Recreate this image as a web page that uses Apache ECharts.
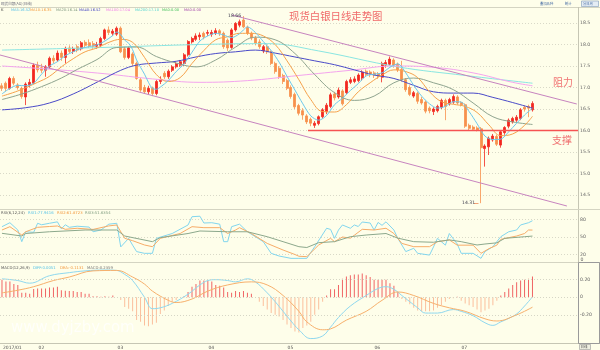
<!DOCTYPE html>
<html><head><meta charset="utf-8">
<script src="https://cdn.jsdelivr.net/npm/echarts@6/dist/echarts.min.js"></script>
<style>html,body{margin:0;padding:0;background:#fefeea}#c{width:600px;height:350px}</style>
</head><body><div id="c"></div>
<script>
// ---------- DATA ----------
const SLOTS = 146; // category slots on the x axis (135 trading days + empty space at right)
const monthTicks = [0, 9, 29, 52, 72, 94, 116];
const monthNames = ['2017/01', '02', '03', '04', '05', '06', '07'];

const open = [17.04,17.10,16.98,17.21,17.06,16.98,16.78,17.06,17.10,17.52, 17.46,17.40,17.48,17.68,17.64,17.80,17.70,17.92,17.84,17.95,
 17.90,18.05,18.04,18.02,17.96,17.98,18.14,18.34,18.26,18.24, 18.38,17.90,17.70,17.78,17.56,17.18,17.00,16.90,16.98,16.86,
 17.14,17.33,17.25,17.40,17.48,17.52,17.56,17.76,18.06,18.12, 18.18,18.26,18.26,18.24,18.27,18.32,18.26,18.10,17.93,18.34,
 18.45,18.57,18.40,18.26,18.15,18.06,17.85,17.95,17.83,17.56, 17.45,17.28,17.16,17.00,16.84,16.58,16.46,16.34,16.26,16.12,
 16.16,16.32,16.44,16.56,16.85,16.78,16.92,16.88,17.12,17.14, 17.16,17.22,17.38,17.36,17.34,17.32,17.24,17.52,17.54,17.64,
 17.54,17.42,17.18,17.00,16.80,16.86,16.72,16.66,16.52,16.44, 16.46,16.54,16.70,16.62,16.66,16.78,16.65,16.60,16.12,16.08,
 16.06,16.04,15.58,15.62,15.78,15.86,15.66,15.95,16.10,16.20, 16.24,16.28,16.54,16.56,16.48];
const close = [16.98,16.98,17.21,17.10,17.00,16.79,17.08,17.12,17.52,17.41, 17.40,17.48,17.68,17.62,17.80,17.70,17.91,17.84,17.90,17.87,
 18.04,17.98,17.97,17.96,18.00,18.14,18.34,18.28,18.31,18.38, 17.83,17.70,17.92,17.56,17.21,16.94,16.90,16.98,16.86,17.14,
 17.18,17.25,17.38,17.48,17.55,17.60,17.76,18.07,18.14,18.20, 18.22,18.18,18.28,18.28,18.32,18.26,17.95,17.92,18.34,18.49,
 18.53,18.41,18.26,18.15,18.03,17.95,17.95,17.83,17.56,17.37, 17.25,17.14,16.98,16.79,16.55,16.40,16.36,16.20,16.17,16.17,
 16.32,16.48,16.59,16.83,16.76,16.94,16.62,17.14,17.18,17.20, 17.29,17.36,17.30,17.30,17.29,17.26,17.56,17.58,17.66,17.52,
 17.41,17.18,16.95,16.84,16.88,16.68,16.64,16.45,16.46,16.50, 16.56,16.70,16.56,16.72,16.79,16.64,16.60,16.10,16.05,16.03,
 16.01,15.60,15.64,15.82,15.87,15.68,15.97,16.07,16.24,16.28, 16.31,16.48,16.50,16.52,16.63];
const low = [16.92,16.92,16.95,17.05,16.95,16.74,16.59,17.00,17.08,17.35, 17.34,17.25,17.44,17.56,17.60,17.62,17.56,17.80,17.78,17.82,
 17.86,17.93,17.92,17.90,17.90,17.94,18.10,18.22,18.20,18.20, 17.80,17.65,17.66,17.50,17.18,16.90,16.85,16.84,16.80,16.82,
 17.08,17.20,17.20,17.36,17.44,17.48,17.50,17.72,18.02,18.08, 18.10,18.12,18.20,18.18,18.22,18.20,17.90,17.85,17.90,18.30,
 18.40,18.38,18.22,18.10,17.98,17.90,17.80,17.78,17.52,17.32, 17.20,17.08,16.94,16.74,16.50,16.35,16.25,16.15,16.10,16.06,
 16.12,16.28,16.38,16.52,16.70,16.74,16.58,16.84,17.08,17.10, 17.12,17.16,17.25,17.24,17.22,17.20,17.12,17.46,17.50,17.46,
 17.36,17.14,16.90,16.80,16.76,16.62,16.60,16.40,16.40,16.36, 16.42,16.50,16.24,16.58,16.62,16.60,16.56,16.06,16.00,16.00,
 15.98,14.31,15.16,15.43,15.74,15.64,15.60,15.90,16.05,16.16, 16.20,16.24,16.44,16.31,16.44];
const high = [17.10,17.14,17.25,17.26,17.10,17.02,17.12,17.20,17.56,17.60, 17.55,17.52,17.72,17.75,17.86,17.86,17.95,17.98,17.95,18.00,
 18.08,18.10,18.12,18.08,18.06,18.18,18.37,18.42,18.36,18.42, 18.42,17.95,17.96,17.82,17.60,17.22,17.06,17.04,17.02,17.18,
 17.26,17.38,17.42,17.52,17.60,17.64,17.80,18.10,18.18,18.26, 18.28,18.30,18.34,18.34,18.38,18.36,18.30,18.14,18.38,18.52,
 18.58,18.66,18.44,18.30,18.20,18.12,17.99,18.00,17.86,17.60, 17.50,17.32,17.20,17.05,16.88,16.62,16.52,16.38,16.30,16.22,
 16.35,16.52,16.64,16.88,16.90,17.00,16.96,17.18,17.24,17.26, 17.33,17.40,17.42,17.40,17.38,17.36,17.60,17.64,17.72,17.68,
 17.58,17.62,17.22,17.05,16.92,16.90,16.78,16.70,16.56,16.54, 16.60,16.74,16.74,16.76,16.84,16.82,16.68,16.63,16.16,16.12,
 16.10,16.08,15.68,15.86,15.92,15.90,16.00,16.10,16.28,16.32, 16.36,16.52,16.58,16.60,16.68];

// moving-average lines, sampled [dayIndex, value]
const ma5 = [[0,16.85],[2,16.98],[4,17.05],[6,17.04],[8,17.10],[10,17.31],[12,17.50],[14,17.60],[16,17.74],[18,17.83],[20,17.91],[22,17.95],[24,17.99],[26,18.08],[28,18.21],[29,18.29],[30,18.23],[31,18.10],[32,18.03],[33,17.88],[34,17.64],[35,17.47],[36,17.31],[37,17.12],[38,16.98],[39,16.96],[40,17.01],[42,17.16],[44,17.37],[46,17.55],[48,17.82],[50,18.08],[52,18.20],[54,18.26],[56,18.22],[58,18.16],[60,18.25],[61,18.34],[62,18.41],[64,18.28],[66,18.07],[68,17.86],[70,17.59],[72,17.26],[74,16.94],[76,16.62],[78,16.34],[80,16.24],[82,16.35],[84,16.60],[86,16.75],[88,16.93],[90,17.09],[92,17.27],[94,17.31],[96,17.34],[98,17.47],[100,17.55],[102,17.34],[104,17.05],[106,16.80],[108,16.62],[110,16.52],[112,16.56],[114,16.67],[116,16.66],[118,16.44],[120,16.16],[122,15.87],[124,15.79],[126,15.80],[128,15.97],[130,16.17],[132,16.36],[134,16.52]];
const ma10 = [[0,16.80],[4,16.92],[9,17.12],[12,17.26],[15,17.48],[18,17.67],[21,17.83],[24,17.92],[27,18.05],[30,18.12],[33,18.05],[36,17.70],[39,17.30],[42,17.14],[45,17.23],[48,17.56],[51,17.86],[54,18.11],[57,18.18],[60,18.26],[63,18.26],[66,18.20],[69,18.00],[72,17.62],[75,17.18],[78,16.72],[81,16.44],[84,16.43],[87,16.60],[90,16.90],[93,17.11],[96,17.29],[99,17.41],[102,17.37],[105,17.23],[108,16.90],[111,16.67],[114,16.61],[117,16.56],[120,16.42],[123,16.13],[126,15.88],[129,15.92],[132,16.12],[134,16.33]];
const ma20 = [[0,16.72],[5,16.85],[10,17.02],[15,17.22],[19,17.42],[24,17.65],[29,17.93],[34,17.94],[39,17.72],[44,17.57],[49,17.48],[54,17.64],[59,17.94],[64,18.17],[69,18.11],[74,17.79],[79,17.30],[84,16.88],[89,16.70],[94,16.80],[99,17.11],[104,17.22],[109,17.11],[114,16.95],[119,16.64],[124,16.32],[129,16.20],[134,16.14]];
const ma40 = [[0,16.48],[6,16.53],[12,16.64],[18,16.85],[25,17.17],[30,17.40],[34,17.52],[39,17.57],[44,17.61],[49,17.71],[54,17.79],[59,17.83],[64,17.87],[69,17.80],[74,17.71],[79,17.62],[84,17.53],[89,17.41],[94,17.29],[99,17.21],[104,17.05],[109,16.90],[114,16.87],[119,16.87],[124,16.77],[129,16.65],[134,16.52]];
const ma100 = [[0,17.50],[13,17.42],[26,17.32],[38,17.20],[50,17.12],[62,17.16],[75,17.28],[88,17.40],[99,17.50],[109,17.47],[119,17.34],[129,17.12],[134,17.04]];
const ma200 = [[0,17.87],[25,17.93],[50,18.00],[67,18.02],[80,17.85],[100,17.48],[117,17.28],[134,17.10]];

// hand-drawn lines [dayIndex, price]
const upperChannel = [[58.1,18.686],[145.2,16.616]];
const lowerChannel = [[-0.5,17.756],[142.7,14.244]];
const supportLine = [[77.3,16.0],[145.5,16.0]];

// RSI(6,12,24) sampled [dayIndex, value]
const rsi1 = [[0,67.7],[2,74.5],[4,62],[5,42],[6,59],[8,58],[9,73.5],[10,71],[12,73.5],[14,76],[15,64],[16,71],[17,66.6],[19,68.5],[22,67],[23,59],[25,62],[27,72],[29,73.5],[30,33],[32,47.7],[33,36],[34,25],[36,22],[38,22],[39,47.7],[43,56],[47,70.6],[48,84.8],[50,85.6],[51,74],[53,74.5],[55,72],[56,42],[57,42],[58,67.7],[60,72],[62,59],[66,42],[68,22],[70,17.4],[73,13.4],[75,13.4],[77,13.4],[79,33.4],[82,65],[83,63],[84,47.7],[85,62],[86,70.6],[88,65],[89,70.6],[90,68],[91,75.7],[93,74],[94,62],[95,75],[96,70],[97,76],[99,62],[100,47.7],[102,25],[104,30.6],[105,22],[108,19],[109,33],[110,47.7],[112,36],[113,56],[115,38],[116,22],[119,22],[121,13.4],[122,25],[124,33.4],[126,50.5],[128,59],[130,62],[131,70.6],[133,74.5],[134,77.9]];
const rsi2 = [[0,62],[2,67.7],[5,53.4],[6,59],[9,66.6],[12,68],[14,68.9],[16,63.2],[19,65],[23,63],[27,69],[29,70.6],[31,47.7],[33,43.7],[36,36.3],[38,33.4],[40,47.7],[45,56],[48,67.7],[51,66],[55,66],[57,56],[59,62],[60,66],[63,56],[67,39],[71,27.7],[74,20],[75,17],[77,16.3],[80,36.3],[83,47.7],[84,42],[86,50],[88,48],[89,53],[91,63.2],[94,62],[97,65],[99,56],[101,39],[104,33.4],[108,33.4],[110,42],[113,45],[115,36],[119,36],[121,22],[123,30],[125,36],[126,46],[130,51.7],[132,56],[133,62],[134,61.9]];
const rsi3 = [[0,56.3],[5,51.7],[6,56],[12,59],[21,62],[29,62],[31,51.7],[38,42],[40,48.9],[47,56],[50,60.3],[57,59],[62,59],[67,50.5],[71,42],[75,33.4],[77,32],[80,40.3],[84,42],[88,50.5],[92,53.4],[97,56],[100,48],[104,42],[109,41],[113,45],[116,42],[120,36.3],[122,38],[125,40],[127,47.7],[132,50.5],[134,51.6]];

// MACD(12,26,9)
const macdHist = [0.20,0.18,0.18,0.15,0.14,0.05,0.05,0.04,0.095,0.10, 0.10,0.10,0.11,0.11,0.12,0.08,0.075,0.07,0.07,0.06,
 0.06,0.04,0.04,0.01,0.01,0.005,0.01,0.005,0.02,0.0, -0.03,-0.11,-0.13,-0.16,-0.26,-0.28,-0.32,-0.33,-0.31,-0.29,
 -0.19,-0.15,-0.10,-0.05,-0.03,0.0,0.01,0.06,0.12,0.15, 0.19,0.19,0.19,0.18,0.14,0.13,0.11,0.06,0.05,0.07,
 0.06,0.07,0.05,0.04,0.0,-0.05,-0.10,-0.14,-0.18,-0.20, -0.22,-0.26,-0.31,-0.35,-0.39,-0.40,-0.35,-0.32,-0.28,-0.20,
 -0.14,-0.05,0.02,0.09,0.09,0.14,0.21,0.235,0.25,0.26, 0.26,0.27,0.25,0.23,0.20,0.20,0.20,0.20,0.16,0.13,
 0.06,-0.02,-0.05,-0.08,-0.12,-0.15,-0.16,-0.16,-0.16,-0.15, -0.12,-0.09,-0.05,-0.02,-0.01,0.005,-0.04,-0.07,-0.09,-0.11,
 -0.14,-0.17,-0.15,-0.13,-0.09,-0.04,0.02,0.06,0.10,0.14, 0.17,0.19,0.20,0.21,0.236];
const diff = [[0,0.21],[4,0.19],[7,0.16],[12,0.245],[17,0.28],[21,0.30],[26,0.31],[29,0.305],[31,0.26],[33,0.19],[36,0.0],[38,-0.13],[40,-0.12],[43,-0.07],[47,0.035],[50,0.14],[52,0.19],[54,0.20],[57,0.19],[59,0.175],[62,0.21],[64,0.175],[67,0.05],[69,-0.05],[71,-0.16],[73,-0.27],[75,-0.37],[78,-0.47],[81,-0.44],[83,-0.34],[85,-0.23],[88,-0.10],[92,0.02],[95,0.10],[97,0.12],[99,0.09],[101,0.02],[103,-0.05],[105,-0.12],[107,-0.18],[110,-0.18],[114,-0.14],[116,-0.16],[119,-0.21],[122,-0.29],[124,-0.32],[126,-0.28],[128,-0.24],[130,-0.19],[132,-0.10],[134,0.005]];
const dea = [[0,0.05],[4,0.08],[8,0.12],[13,0.19],[17,0.23],[23,0.30],[29,0.305],[33,0.23],[36,0.15],[38,0.07],[42,-0.035],[44,-0.06],[48,-0.02],[52,0.07],[57,0.14],[63,0.175],[67,0.14],[71,0.02],[75,-0.16],[77,-0.28],[81,-0.37],[83,-0.36],[87,-0.26],[92,-0.16],[96,-0.035],[100,0.06],[104,0.02],[109,-0.07],[113,-0.12],[117,-0.16],[122,-0.245],[125,-0.27],[130,-0.20],[134,-0.113]];

// ---------- CHART ----------
const cats = Array.from({length: SLOTS}, (_, i) => String(i));
const dateLabel = new Array(SLOTS).fill('');
monthTicks.forEach((t, k) => { dateLabel[t] = monthNames[k]; });
const candles = open.map((o, i) => [o, close[i], low[i], high[i]]);

const NUMF = 'DejaVu Sans, sans-serif';
const CJK = '"Noto Sans CJK SC", sans-serif';
const GRID_LINE = {color: '#d9d9c8', type: [1, 2], width: 1};

function hiddenCat(g) { return {type: 'category', gridIndex: g, data: cats, boundaryGap: true, show: false}; }
function hiddenVal(g) { return {type: 'value', gridIndex: g, min: -0.5, max: SLOTS - 0.5, show: false}; }
function line(name, data, color, xi, yi, extra) {
  return Object.assign({type: 'line', name, data, xAxisIndex: xi, yAxisIndex: yi, symbol: 'none', showSymbol: false,
    lineStyle: {color, width: 1}, itemStyle: {color}, z: 3, silent: true, animation: false}, extra || {});
}
function T(x, y, text, size, color, font, extra) {
  return Object.assign({type: 'text', x, y, z: 100, silent: true, style: {text, fill: color, fontSize: size,
    fontFamily: font || NUMF, textAlign: 'left', textVerticalAlign: 'middle', align: 'left', verticalAlign: 'middle'}}, extra || {});
}
function L(x1, y1, x2, y2, color, w) {
  return {type: 'line', z: 50, silent: true, shape: {x1, y1, x2, y2}, style: {stroke: color, lineWidth: w || 1}};
}

const chart = echarts.init(document.getElementById('c'), null, {renderer: 'canvas'});
chart.setOption({
  animation: false,
  backgroundColor: '#fefeea',
  grid: [
    {left: 0, width: 578, top: 1.5, height: 215},
    {left: 0, width: 578, top: 202, height: 70},
    {left: 0, width: 578, top: 244.5, height: 111},
    {left: 0, width: 578, top: 343, height: 1}
  ],
  xAxis: [
    hiddenCat(0), hiddenVal(0), hiddenVal(1), hiddenCat(2), hiddenVal(2),
    {type: 'category', gridIndex: 3, data: cats, boundaryGap: true, axisLine: {show: false}, axisTick: {show: false},
     splitLine: {show: false},
     axisLabel: {interval: 0, margin: 1.5, fontSize: 4.5, color: '#555', fontFamily: NUMF, align: 'left',
       formatter: (v, idx) => dateLabel[idx] || ''}}
  ],
  yAxis: [
    {type: 'value', gridIndex: 0, position: 'right', min: 14, max: 19, interval: 0.5,
     axisLine: {show: false}, axisTick: {show: false},
     axisLabel: {fontSize: 4.6, color: '#666', margin: 2, fontFamily: NUMF,
       formatter: v => (v < 14.3 || v > 18.7) ? '' : v.toFixed(1)},
     splitLine: {show: true, showMinLine: false, showMaxLine: false, lineStyle: GRID_LINE}},
    {type: 'value', gridIndex: 1, position: 'right', min: -10, max: 110, interval: 30,
     axisLine: {show: false}, axisTick: {show: false},
     axisLabel: {fontSize: 4.6, color: '#666', margin: 2, fontFamily: NUMF,
       formatter: v => (v > 0 && v < 100) ? String(Math.round(v)) : ''},
     splitLine: {show: true, showMinLine: false, showMaxLine: false, lineStyle: GRID_LINE}},
    {type: 'value', gridIndex: 2, position: 'right', min: -0.6, max: 0.6, interval: 0.2,
     axisLine: {show: false}, axisTick: {show: false},
     axisLabel: {fontSize: 4.6, color: '#666', margin: 2, fontFamily: NUMF,
       formatter: v => { const r = Math.round(v * 100) / 100; if (Math.abs(r) < 1e-9) return '0';
         if (Math.abs(Math.abs(r) - 0.2) < 1e-6) return r.toFixed(2); return ''; }},
     splitLine: {show: false}},
    {type: 'value', gridIndex: 3, show: false}
  ],
  series: [
    {type: 'candlestick', xAxisIndex: 0, yAxisIndex: 0, data: candles, barWidth: 2.5, z: 2, silent: true,
     itemStyle: {color: '#f2271f', color0: '#f7914c', borderColor: '#f2271f', borderColor0: '#f7914c', borderWidth: 0.8}},
    line('MA200', ma200, '#8ae6e2', 1, 0, {smooth: 0.4}),
    line('MA100', ma100, '#f4a4ee', 1, 0, {smooth: 0.4}),
    line('MA40', ma40, '#4a4ac8', 1, 0, {smooth: 0.4}),
    line('MA20', ma20, '#8fa48f', 1, 0, {smooth: 0.4}),
    line('MA10', ma10, '#f6a24c', 1, 0, {smooth: 0.4}),
    line('MA5', ma5, '#6cc8ec', 1, 0, {smooth: 0.3}),
    line('upper', upperChannel, '#c784bf', 1, 0, {z: 4}),
    line('lower', lowerChannel, '#c784bf', 1, 0, {z: 4}),
    line('support', supportLine, '#f65353', 1, 0, {z: 4, lineStyle: {color: '#f65353', width: 1.4}}),
    line('RSI1', rsi1, '#82d6ee', 2, 1),
    line('RSI2', rsi2, '#f7ac68', 2, 1),
    line('RSI3', rsi3, '#8ca88c', 2, 1),
    {type: 'bar', xAxisIndex: 3, yAxisIndex: 2, data: macdHist, barWidth: 1, silent: true, z: 2,
     itemStyle: {color: p => p.value >= 0 ? '#f06464' : '#fbbf9c'},
     markLine: {silent: true, symbol: 'none', label: {show: false}, animation: false,
       lineStyle: {color: '#d6d6c6', type: [1, 2], width: 1},
       data: [{yAxis: 0.2}, {yAxis: 0}, {yAxis: -0.2}]}},
    line('DIFF', diff, '#8fd8ef', 4, 2, {smooth: 0.4}),
    line('DEA', dea, '#f7b06c', 4, 2, {smooth: 0.4})
  ],
  graphic: [
    // panel frame
    L(0, 7.5, 600, 7.5, '#d4d4c2'),
    L(578.5, 7, 578.5, 343, '#c6c6b4'),
    L(0, 209.5, 600, 209.5, '#d4d4c2'),
    L(0, 262.5, 600, 262.5, '#d4d4c2'),
    L(0, 343.5, 600, 343.5, '#c6c6b4'),
    {type: 'rect', z: 50, silent: true, shape: {x: 578.5, y: 262.5, width: 21, height: 81}, style: {fill: 'none', stroke: '#9a9a9a', lineWidth: 1}},
    {type: 'rect', z: 50, silent: true, shape: {x: 579.5, y: 344.5, width: 11, height: 5}, style: {fill: '#eeeee0', stroke: '#999', lineWidth: 0.6}},
    T(580.5, 347.2, '日线', 3.4, '#555', CJK),
    // header row 1
    T(1, 3.5, '现货白银(AG)(日线)', 3.6, '#6a6a7a', CJK),
    T(540, 3.6, '叠加品种', 3.3, '#4a6fa5', CJK),
    T(565, 3.6, '统计', 3.3, '#4a6fa5', CJK),
    {type: 'rect', z: 50, silent: true, shape: {x: 581.5, y: 1, width: 17, height: 5.5}, style: {fill: '#e4ecf4', stroke: '#7d98b8', lineWidth: 0.6}},
    T(583, 3.8, '分日周', 3.3, '#4a6fa5', CJK),
    // header row 2 (MA legend)
    T(1, 10, 'K', 3.8, '#444'),
    T(11, 10, 'MA5:16.52', 3.6, '#55bfe6'),
    T(30, 10, 'MA10:16.35', 3.6, '#f39a3c'),
    T(56, 10, 'MA20:16.14', 3.6, '#7f997f'),
    T(79, 10, 'MA40:16.52', 3.6, '#3d3dc0'),
    T(106, 10, 'MA100:17.04', 3.6, '#f07ae8'),
    T(135, 10, 'MA200:17.10', 3.6, '#4fd3cf'),
    T(162, 10, 'MA0:0.00', 3.6, '#3cbf55'),
    T(184, 10, 'MA0:0.00', 3.6, '#a040a8'),
    // annotations
    T(289, 16, '现货白银日线走势图', 10.4, '#f06a6a', CJK),
    T(553, 82, '阻力', 10, '#f07272', CJK),
    T(552, 140, '支撑', 10, '#f07272', CJK),
    T(228, 15.5, '18.66', 4.6, '#3a3a4a'),
    T(462, 203, '14.31', 4.6, '#3a3a4a'),
    L(474, 203.5, 478.5, 203.5, '#f08a5a', 0.8),
    // RSI header
    T(1, 213, 'RSI(6,12,24)', 3.8, '#555'),
    T(28, 213, 'RSI1:77.9416', 3.8, '#55c2e6'),
    T(57, 213, 'RSI2:61.8723', 3.8, '#f3993f'),
    T(85, 213, 'RSI3:51.6354', 3.8, '#7d9a7d'),
    T(580.5, 259.5, '0', 4.6, '#666'),
    // MACD header
    T(1, 268, 'MACD(12,26,9)', 3.8, '#555'),
    T(33, 268, 'DIFF:0.0051', 3.8, '#55c2e6'),
    T(60, 268, 'DEA:-0.1131', 3.8, '#f3993f'),
    T(87, 268, 'MACD:0.2359', 3.8, '#777'),
    // faint watermark
    T(11, 328, 'www.dyjzby.com', 15, 'rgba(255,255,255,0.75)')
  ]
});
</script></body></html>
